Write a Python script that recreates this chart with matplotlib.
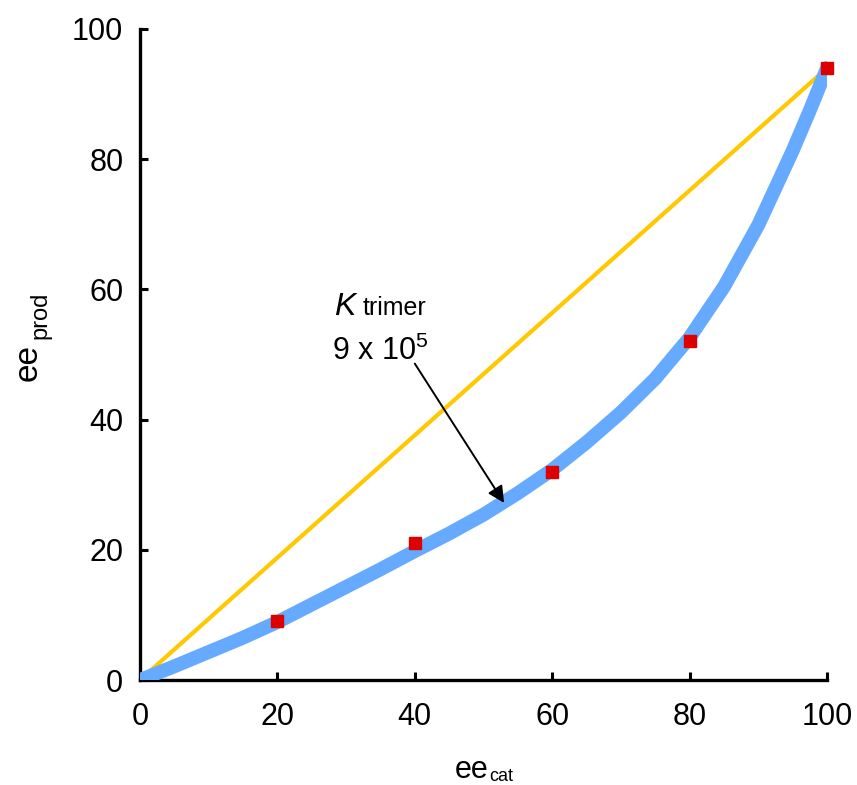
import matplotlib
matplotlib.use("Agg")
import matplotlib.pyplot as plt

plt.rcParams['font.family'] = ['Liberation Sans', 'DejaVu Sans']
plt.rcParams['mathtext.fontset'] = 'custom'
plt.rcParams['mathtext.rm'] = 'Liberation Sans'
plt.rcParams['mathtext.it'] = 'Liberation Sans:italic'

# data
line_x = [0, 100]
line_y = [0, 94]
curve_x = [0, 5, 10, 15, 20, 25, 30, 35, 40, 45, 50, 55, 60, 65, 70, 75, 80, 85, 90, 95, 97.5, 100]
curve_y = [0, 2.1, 4.3, 6.5, 8.9, 11.6, 14.3, 17.0, 19.8, 22.5, 25.4, 28.7, 32.3, 36.5,
           41.1, 46.3, 52.6, 60.4, 69.9, 81.3, 87.5, 94]
pts_x = [20, 40, 60, 80, 100]
pts_y = [9, 21, 32, 52, 94]
xticks = [0, 20, 40, 60, 80, 100]
yticks = [0, 20, 40, 60, 80, 100]

W, H = 857, 785
fig = plt.figure(figsize=(W / 100, H / 100), dpi=100)
ax = fig.add_axes([140 / W, 1 - 680 / H, 687 / W, 651 / H])

ax.plot(line_x, line_y, color='#FFC800', lw=3, solid_capstyle='round', zorder=2)
ax.plot(curve_x, curve_y, color='#66AAFF', lw=10, solid_capstyle='round',
        solid_joinstyle='round', zorder=3)
ax.plot(pts_x, pts_y, 's', color='#DD0000', ms=9, mec='#DD0000', zorder=4, clip_on=False)

ax.set_xlim(0, 100)
ax.set_ylim(0, 100)
ax.set_xticks(xticks)
ax.set_yticks(yticks)
ax.tick_params(direction='in', length=6, width=2.2, labelsize=22)
ax.tick_params(axis='x', pad=16)
ax.tick_params(axis='y', pad=12)
for s in ['top', 'right']:
    ax.spines[s].set_visible(False)
for s in ['left', 'bottom']:
    ax.spines[s].set_linewidth(2.4)

# axis labels (main text + smaller subscript)
fig.text(455 / W, 1 - 778 / H, 'ee', fontsize=22, ha='left', va='baseline')
fig.text(489 / W, 1 - 781 / H, 'cat', fontsize=13, ha='left', va='baseline')
fig.text(37 / W, 1 - 381 / H, 'ee', fontsize=24, rotation=90, rotation_mode='anchor',
         ha='left', va='baseline')
fig.text(46 / W, 1 - 339 / H, 'prod', fontsize=17, rotation=90, rotation_mode='anchor',
         ha='left', va='baseline')

# annotation
ax.text(28.2, 56.1, 'K', fontsize=23, style='italic', ha='left', va='baseline')
ax.text(32.4, 56.1, 'trimer', fontsize=18, ha='left', va='baseline')
ax.text(28.0, 49.2, r'9 x 10$^{\mathregular{5}}$', fontsize=22, ha='left', va='baseline')
ax.annotate('', xy=(53.0, 27.2), xytext=(40.0, 48.6),
            arrowprops=dict(arrowstyle='-|>', color='black', lw=1.4, mutation_scale=25,
                            shrinkA=0, shrinkB=0))

fig.savefig('out.png', dpi=100)
